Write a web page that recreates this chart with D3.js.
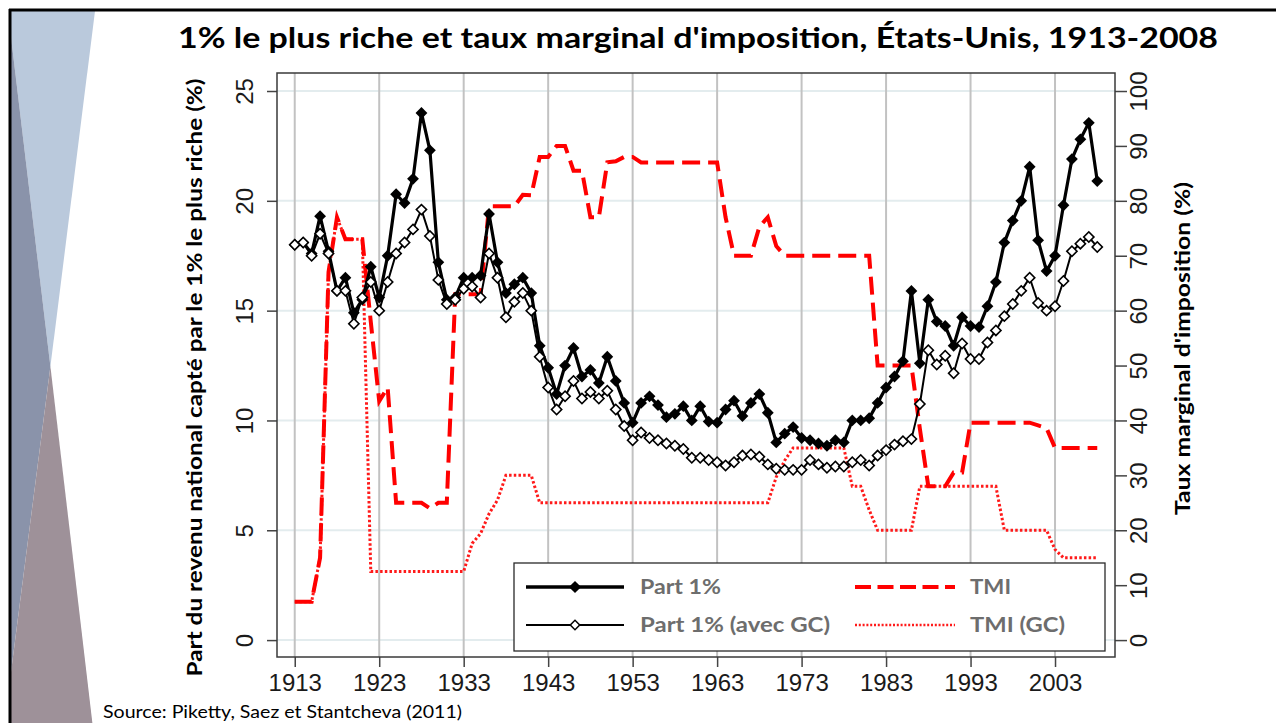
<!DOCTYPE html>
<html><head><meta charset="utf-8">
<script src="https://cdn.jsdelivr.net/npm/d3@7"></script>
<style>
html,body{margin:0;padding:0;background:#fff;}
svg{display:block;}
</style></head>
<body>
<svg id="chart" width="1276" height="723"></svg>
<script>
// ---------- DATA ----------
const years = [1913,1914,1915,1916,1917,1918,1919,1920,1921,1922,1923,1924,1925,1926,1927,1928,1929,1930,1931,1932,
1933,1934,1935,1936,1937,1938,1939,1940,1941,1942,1943,1944,1945,1946,1947,1948,1949,1950,1951,1952,
1953,1954,1955,1956,1957,1958,1959,1960,1961,1962,1963,1964,1965,1966,1967,1968,1969,1970,1971,1972,
1973,1974,1975,1976,1977,1978,1979,1980,1981,1982,1983,1984,1985,1986,1987,1988,1989,1990,1991,1992,
1993,1994,1995,1996,1997,1998,1999,2000,2001,2002,2003,2004,2005,2006,2007,2008];

const part1 = [18.0,18.1,17.6,19.3,17.7,15.9,16.5,14.9,15.5,17.0,15.6,17.5,20.3,19.9,21.0,24.0,22.3,17.2,15.5,15.6,
16.5,16.5,16.6,19.4,17.2,15.8,16.2,16.5,15.8,13.4,12.4,11.2,12.5,13.3,12.0,12.3,11.7,12.9,11.8,10.8,
9.9,10.8,11.1,10.7,10.15,10.3,10.65,10.0,10.65,9.95,9.9,10.5,10.9,10.2,10.8,11.2,10.35,9.0,9.4,9.7,
9.2,9.1,8.95,8.85,9.1,9.0,10.0,10.0,10.1,10.8,11.5,12.0,12.7,15.9,12.6,15.5,14.5,14.3,13.4,14.7,
14.3,14.25,15.2,16.3,18.1,19.1,20.0,21.55,18.2,16.8,17.5,19.8,21.9,22.8,23.55,20.9];

const part1GC = [18.0,18.1,17.5,18.5,17.6,15.9,15.9,14.4,15.6,16.3,15.0,16.3,17.6,18.1,18.7,19.6,18.4,16.4,15.3,15.5,
16.0,16.1,15.6,17.6,16.5,14.7,15.4,15.8,15.0,12.9,11.5,10.5,11.1,11.8,11.0,11.3,11.0,11.35,10.5,9.75,
9.1,9.45,9.2,9.1,8.95,8.85,8.7,8.3,8.3,8.2,8.1,7.95,8.1,8.4,8.45,8.35,8.0,7.8,7.75,7.75,
7.75,8.2,8.0,7.85,7.9,7.9,8.1,8.2,7.95,8.4,8.65,8.9,9.05,9.15,10.75,13.2,12.55,12.95,12.15,13.5,
12.8,12.8,13.55,14.1,14.75,15.3,15.9,16.5,15.35,15.0,15.2,16.35,17.7,18.05,18.35,17.9];

const tmi = [7,7,7,15,67,77,73,73,73,58,43.5,46,25,25,25,25,24,25,25,63,
63,63,63,79,79,79,79,81.1,81,88,88,90,90,85.5,85.5,77,77,87,87.2,88,
88,87,87,87,87,87,87,87,87,87,87,77,70,70,70,75.25,77,71.75,70,70,
70,70,70,70,70,70,70,70,70,50,50,50,50,50,38.5,28,28,28,30.5,30.5,
39.6,39.6,39.6,39.6,39.6,39.6,39.6,39.6,39.1,38.6,35,35,35,35,35,35];

const tmiGC = [7,7,7,15,67,77,73,73,73,12.5,12.5,12.5,12.5,12.5,12.5,12.5,12.5,12.5,12.5,12.5,
12.5,17.6,19.4,23,25.5,30,30,30,30,25,25,25,25,25,25,25,25,25,25,25,
25,25,25,25,25,25,25,25,25,25,25,25,25,25,25,25,25,29.7,32.7,35,
35,35,35,35,35,35,28,28,23.7,20,20,20,20,20,28,28,28,28,28,28,
28,28,28,28,20,20,20,20,20,20,16.5,15,15,15,15,15];

const xTicks = [1913,1923,1933,1943,1953,1963,1973,1983,1993,2003];
const leftTicks = [0,5,10,15,20,25];
const rightTicks = [0,10,20,30,40,50,60,70,80,90,100];

const titleText = "1% le plus riche et taux marginal d'imposition, États-Unis, 1913-2008";
const leftTitle = "Part du revenu national capté par le 1% le plus riche (%)";
const rightTitle = "Taux marginal d'imposition (%)";
const sourceText = "Source: Piketty, Saez et Stantcheva (2011)";
const legendLabels = ["Part 1%","Part 1% (avec GC)","TMI","TMI (GC)"];

// ---------- LAYOUT ----------
const svg = d3.select("#chart");
const P = {l:277, r:1115, t:73, b:657};
const x = d3.scaleLinear().domain([1910.9, 2010.1]).range([P.l, P.r]);
const yL = d3.scaleLinear().domain([-0.77, 25.82]).range([P.b, P.t]);
const yR = d3.scaleLinear().domain([-3.08, 103.28]).range([P.b, P.t]);

// slide decoration
const deco = svg.append("g");
deco.append("polygon").attr("points","11,11 95,11 50.4,366.4 11,37").attr("fill","#bac9dc");
deco.append("polygon").attr("points","11,37 50.4,366.4 11,672").attr("fill","#8a93aa");
deco.append("polygon").attr("points","50.4,366.4 92.4,723 11,723 11,672").attr("fill","#9e9199");
svg.append("line").attr("x1",9).attr("x2",1276).attr("y1",10).attr("y2",10).attr("stroke","#000").attr("stroke-width",3);
svg.append("line").attr("x1",10).attr("x2",10).attr("y1",9).attr("y2",723).attr("stroke","#000").attr("stroke-width",3);

// title
svg.append("text").attr("x",698).attr("y",48).attr("text-anchor","middle")
  .attr("font-family","Lato, 'Open Sans', sans-serif").attr("font-weight","bold").attr("font-size",28)
  .attr("textLength",1040).attr("lengthAdjust","spacingAndGlyphs").attr("fill","#000").text(titleText);

// gridlines
const grid = svg.append("g");
grid.selectAll(".hg").data(leftTicks).enter().append("line")
  .attr("x1",P.l).attr("x2",P.r).attr("y1",d=>yL(d)).attr("y2",d=>yL(d))
  .attr("stroke","#e3ecee").attr("stroke-width",2);
grid.selectAll(".vg").data(xTicks).enter().append("line")
  .attr("y1",P.t).attr("y2",P.b).attr("x1",d=>x(d)).attr("x2",d=>x(d))
  .attr("stroke","#c2c2c2").attr("stroke-width",2);

// axes
const tickFont = "'Liberation Sans', Arial, sans-serif";
const axL = svg.append("g").attr("transform",`translate(${P.l},0)`)
  .call(d3.axisLeft(yL).tickValues(leftTicks).tickSize(10).tickPadding(0));
axL.select(".domain").remove();
axL.selectAll("line").attr("stroke","#444").attr("stroke-width",1.5);
axL.selectAll("text").attr("x",0).attr("dy","0.35em").attr("text-anchor","middle")
  .attr("transform","translate(-32,0) rotate(-90)")
  .attr("font-family",tickFont).attr("font-size",24).attr("fill","#1a1a1a");

const axR = svg.append("g").attr("transform",`translate(${P.r},0)`)
  .call(d3.axisRight(yR).tickValues(rightTicks).tickSize(12).tickPadding(0));
axR.select(".domain").remove();
axR.selectAll("line").attr("stroke","#444").attr("stroke-width",1.5);
axR.selectAll("text").attr("x",0).attr("dy","0.35em").attr("text-anchor","middle")
  .attr("transform","translate(24,0) rotate(-90)")
  .attr("font-family",tickFont).attr("font-size",24).attr("fill","#1a1a1a");

const axB = svg.append("g").attr("transform",`translate(0,${P.b})`)
  .call(d3.axisBottom(x).tickValues(xTicks).tickFormat(d3.format("d")).tickSize(10));
axB.select(".domain").remove();
axB.selectAll("line").attr("stroke","#444").attr("stroke-width",1.5);
axB.selectAll("text").attr("y",17).attr("font-family",tickFont).attr("font-size",24).attr("fill","#1a1a1a");

// axis titles
svg.append("text").attr("transform","translate(202,377.5) rotate(-90)").attr("text-anchor","middle")
  .attr("font-family","Lato, 'Open Sans', sans-serif").attr("font-weight","bold").attr("font-size",21)
  .attr("textLength",598).attr("lengthAdjust","spacingAndGlyphs").attr("fill","#000").text(leftTitle);
svg.append("text").attr("transform","translate(1190,348.5) rotate(-90)").attr("text-anchor","middle")
  .attr("font-family","Lato, 'Open Sans', sans-serif").attr("font-weight","bold").attr("font-size",21)
  .attr("textLength",333).attr("lengthAdjust","spacingAndGlyphs").attr("fill","#000").text(rightTitle);

// source
svg.append("text").attr("x",103).attr("y",718)
  .attr("font-family","Lato, 'Open Sans', sans-serif").attr("font-size",18)
  .attr("textLength",359).attr("lengthAdjust","spacingAndGlyphs").attr("fill","#000").text(sourceText);

// ---------- SERIES ----------
const plot = svg.append("g");
const lineR = d3.line().x((d,i)=>x(years[i])).y(d=>yR(d));
const lineL = d3.line().x((d,i)=>x(years[i])).y(d=>yL(d));

plot.append("path").datum(tmiGC).attr("d",lineR).attr("fill","none")
  .attr("stroke","#ff1a1a").attr("stroke-width",3).attr("stroke-dasharray","2.5,2.2");
plot.append("path").datum(tmi).attr("d",lineR).attr("fill","none")
  .attr("stroke","#ff0000").attr("stroke-width",4).attr("stroke-dasharray","18,8");

const diamond = (s)=>d3.symbol(d3.symbolSquare, s)();

plot.append("path").datum(part1).attr("d",lineL).attr("fill","none")
  .attr("stroke","#000").attr("stroke-width",3.2).attr("stroke-linejoin","round");
plot.selectAll(".m1").data(part1).enter().append("path")
  .attr("d",diamond(70))
  .attr("transform",(d,i)=>`translate(${x(years[i])},${yL(d)}) rotate(45)`)
  .attr("fill","#000");

plot.append("path").datum(part1GC).attr("d",lineL).attr("fill","none")
  .attr("stroke","#000").attr("stroke-width",2).attr("stroke-linejoin","round");
plot.selectAll(".m2").data(part1GC).enter().append("path")
  .attr("d",diamond(52))
  .attr("transform",(d,i)=>`translate(${x(years[i])},${yL(d)}) rotate(45)`)
  .attr("fill","#fff").attr("stroke","#000").attr("stroke-width",1.6);

// frame
svg.append("rect").attr("x",P.l).attr("y",P.t).attr("width",P.r-P.l).attr("height",P.b-P.t)
  .attr("fill","none").attr("stroke","#3a3a3a").attr("stroke-width",1.5);

// ---------- LEGEND ----------
const lg = svg.append("g");
lg.append("rect").attr("x",514).attr("y",563).attr("width",591).attr("height",88)
  .attr("fill","#fff").attr("stroke","#2a2a2a").attr("stroke-width",1.3);
const row1 = 587, row2 = 625;
lg.append("line").attr("x1",526).attr("x2",624).attr("y1",row1).attr("y2",row1).attr("stroke","#000").attr("stroke-width",3.5);
lg.append("path").attr("d",diamond(75)).attr("transform",`translate(575,${row1}) rotate(45)`).attr("fill","#000");
lg.append("line").attr("x1",526).attr("x2",624).attr("y1",row2).attr("y2",row2).attr("stroke","#000").attr("stroke-width",2);
lg.append("path").attr("d",diamond(45)).attr("transform",`translate(575,${row2}) rotate(45)`)
  .attr("fill","#fff").attr("stroke","#000").attr("stroke-width",1.5);
lg.append("line").attr("x1",855).attr("x2",955).attr("y1",row1).attr("y2",row1)
  .attr("stroke","#ff0000").attr("stroke-width",4).attr("stroke-dasharray","16,6.5");
lg.append("line").attr("x1",855).attr("x2",955).attr("y1",row2).attr("y2",row2)
  .attr("stroke","#ff1a1a").attr("stroke-width",2.5).attr("stroke-dasharray","2,1.8");

const legPos = [[640,row1,81],[640,row2,190],[970,row1,41],[970,row2,95]];
lg.selectAll(".lt").data(legendLabels).enter().append("text")
  .attr("x",(d,i)=>legPos[i][0]).attr("y",(d,i)=>legPos[i][1]+7)
  .attr("textLength",(d,i)=>legPos[i][2]).attr("lengthAdjust","spacingAndGlyphs")
  .attr("font-family","Lato, 'Open Sans', sans-serif").attr("font-weight","bold").attr("font-size",21)
  .attr("fill","#6d6d6d").text(d=>d);
</script>
</body></html>
